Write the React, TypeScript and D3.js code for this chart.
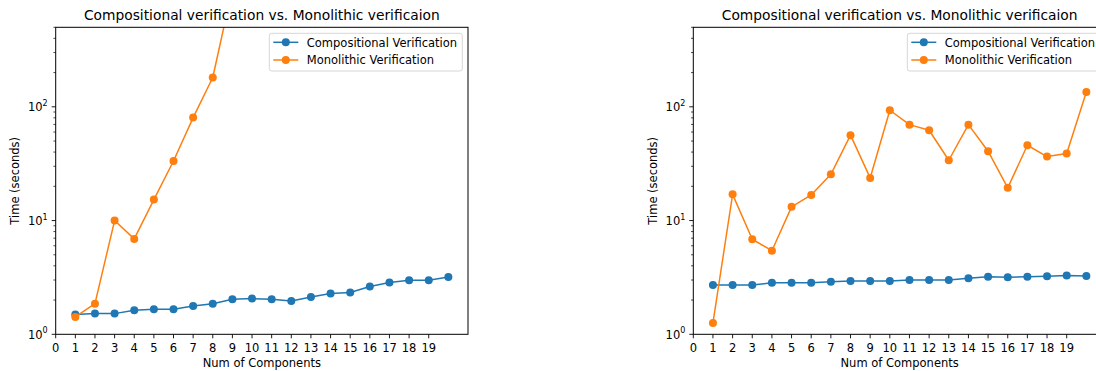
import React, { useEffect, useRef } from 'react';
import * as d3 from 'd3';

// x positions (number of components)
const components = [1, 2, 3, 4, 5, 6, 7, 8, 9, 10, 11, 12, 13, 14, 15, 16, 17, 18, 19, 20];
const xTickLabels = [0, 1, 2, 3, 4, 5, 6, 7, 8, 9, 10, 11, 12, 13, 14, 15, 16, 17, 18, 19];

// left panel
const leftCompositional = [1.49, 1.52, 1.52, 1.63, 1.66, 1.66, 1.77, 1.86, 2.03, 2.06, 2.03, 1.96, 2.13, 2.28, 2.33, 2.63, 2.85, 2.98, 2.98, 3.19];
const leftMonolithic = [1.42, 1.86, 10, 6.9, 15.3, 33.4, 80.4, 181, 1100];

// right panel
const rightCompositional = [2.71, 2.71, 2.71, 2.84, 2.84, 2.84, 2.9, 2.94, 2.94, 2.94, 3.0, 3.0, 3.0, 3.11, 3.21, 3.17, 3.21, 3.24, 3.28, 3.26];
const rightMonolithic = [1.26, 17.0, 6.85, 5.43, 13.2, 16.8, 25.5, 56.3, 23.7, 93.3, 69.7, 62.2, 33.9, 69.7, 40.7, 19.4, 45.9, 36.5, 38.8, 135];

const yMajor = [0, 1, 2];
const seriesNames = ['Compositional Verification', 'Monolithic Verification'];
const colors = ['#1f77b4', '#ff7f0e'];

const FONT = 'DejaVu Sans, sans-serif';

const App = () => {
  const svgRef = useRef(null);

  useEffect(() => {
    const svg = d3.select(svgRef.current);
    svg.selectAll('*').remove();

    const drawPanel = (id, left, right, comp, mono) => {
      const top = 27.3;
      const bottom = 334.3;
      const x = d3.scaleLinear().domain([0, 21]).range([left, right]);
      const y = d3.scaleLog().domain([1, 500]).range([bottom, top]);

      svg.append('clipPath').attr('id', id)
        .append('rect')
        .attr('x', left).attr('y', top)
        .attr('width', right - left).attr('height', bottom - top);

      const g = svg.append('g');
      const plot = g.append('g').attr('clip-path', `url(#${id})`);

      const line = d3.line().x(d => x(d[0])).y(d => y(d[1]));
      [comp, mono].forEach((vals, i) => {
        const pts = vals.map((v, j) => [components[j], v]);
        plot.append('path')
          .attr('d', line(pts))
          .attr('fill', 'none')
          .attr('stroke', colors[i])
          .attr('stroke-width', 1.5)
          .attr('stroke-linejoin', 'round');
        plot.selectAll(`.dot${i}`)
          .data(pts)
          .enter().append('circle')
          .attr('cx', d => x(d[0]))
          .attr('cy', d => y(d[1]))
          .attr('r', 4)
          .attr('fill', colors[i]);
      });

      // spines
      g.append('rect')
        .attr('x', left).attr('y', top)
        .attr('width', right - left).attr('height', bottom - top)
        .attr('fill', 'none').attr('stroke', '#000').attr('stroke-width', 1);

      // x ticks
      xTickLabels.forEach(t => {
        g.append('line')
          .attr('x1', x(t)).attr('x2', x(t))
          .attr('y1', bottom).attr('y2', bottom + 4)
          .attr('stroke', '#000').attr('stroke-width', 0.9);
        g.append('text')
          .attr('x', x(t)).attr('y', bottom + 17.5)
          .attr('text-anchor', 'middle')
          .style('font-family', FONT).style('font-size', '11.5px')
          .attr('fill', '#000')
          .text(t);
      });

      // y ticks (log)
      yMajor.forEach(p => {
        const yy = y(Math.pow(10, p));
        g.append('line')
          .attr('x1', left - 4).attr('x2', left)
          .attr('y1', yy).attr('y2', yy)
          .attr('stroke', '#000').attr('stroke-width', 0.9);
        const txt = g.append('text')
          .attr('x', left - 8).attr('y', yy + 4.5)
          .attr('text-anchor', 'end')
          .style('font-family', FONT).style('font-size', '11.5px')
          .attr('fill', '#000');
        txt.append('tspan').text('10');
        txt.append('tspan').attr('dy', -5.5).style('font-size', '8px').text(p);
      });
      [1, 10, 100].forEach(base => {
        [2, 3, 4, 5, 6, 7, 8, 9].forEach(m => {
          const v = base * m;
          if (v > 500) return;
          const yy = y(v);
          g.append('line')
            .attr('x1', left - 2.3).attr('x2', left)
            .attr('y1', yy).attr('y2', yy)
            .attr('stroke', '#000').attr('stroke-width', 0.7);
        });
      });

      const cx = (left + right) / 2;
      g.append('text')
        .attr('x', cx).attr('y', 20)
        .attr('text-anchor', 'middle')
        .style('font-family', FONT).style('font-size', '13.8px')
        .attr('fill', '#000')
        .text('Compositional verification vs. Monolithic verificaion');

      g.append('text')
        .attr('x', cx).attr('y', 367)
        .attr('text-anchor', 'middle')
        .style('font-family', FONT).style('font-size', '11.5px')
        .attr('fill', '#000')
        .text('Num of Components');

      g.append('text')
        .attr('transform', `translate(${left - 36.5}, ${(top + bottom) / 2}) rotate(-90)`)
        .attr('text-anchor', 'middle')
        .style('font-family', FONT).style('font-size', '11.5px')
        .attr('fill', '#000')
        .text('Time (seconds)');

      // legend
      const lw = 193;
      const lx = right - 5.7 - lw;
      const ly = 33.3;
      g.append('rect')
        .attr('x', lx).attr('y', ly)
        .attr('width', lw).attr('height', 37.7)
        .attr('rx', 2.5)
        .attr('fill', '#fff').attr('fill-opacity', 0.8)
        .attr('stroke', '#d6d6d6').attr('stroke-width', 1);
      seriesNames.forEach((name, i) => {
        const ry = ly + 9 + i * 17.7;
        g.append('line')
          .attr('x1', lx + 4).attr('x2', lx + 29)
          .attr('y1', ry).attr('y2', ry)
          .attr('stroke', colors[i]).attr('stroke-width', 1.5);
        g.append('circle')
          .attr('cx', lx + 16.5).attr('cy', ry).attr('r', 4)
          .attr('fill', colors[i]);
        g.append('text')
          .attr('x', lx + 37.5).attr('y', ry + 4.2)
          .style('font-family', FONT).style('font-size', '11.5px')
          .attr('fill', '#000')
          .text(name);
      });
    };

    drawPanel('clipL', 55.7, 468, leftCompositional, leftMonolithic);
    drawPanel('clipR', 693.3, 1106, rightCompositional, rightMonolithic);
  }, []);

  return (
    <svg
      ref={svgRef}
      width={1096}
      height={371}
      style={{ position: 'absolute', left: 0, top: 0, background: '#fff' }}
    />
  );
};

export default App;
